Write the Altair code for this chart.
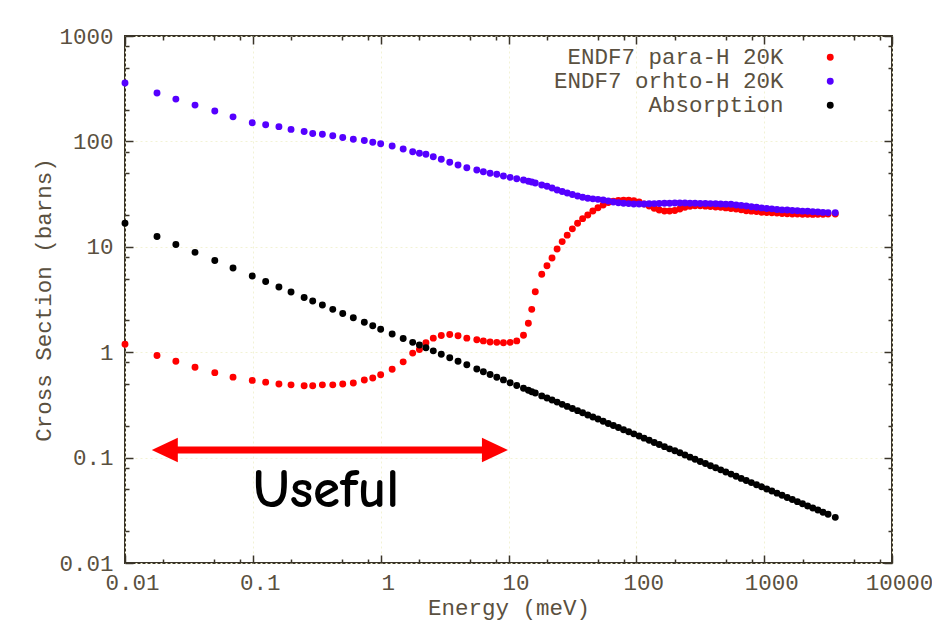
import altair as alt
import pandas as pd

# ---------------- data ----------------
energy = [0.01, 0.0178, 0.025, 0.0353, 0.0504, 0.070, 0.099, 0.126, 0.160, 0.199,
          0.252, 0.294, 0.350, 0.422, 0.505, 0.611, 0.745, 0.867, 1.00, 1.23,
          1.50, 1.78, 2.01, 2.26, 2.58, 2.98, 3.47, 4.03, 4.72, 5.65,
          6.36, 7.18, 8.10, 9.13, 10.3, 11.6, 13.1, 14.3, 15.2, 16.2,
          18.2, 20.0,
          21.9, 24.0, 26.3, 28.8, 31.6, 34.7, 38.0, 41.7, 45.7, 50.1,
          55.0, 60.3, 66.1, 72.4, 79.4, 87.1, 95.5, 105, 115, 126,
          138, 151, 166, 182, 200, 219, 240, 263, 288, 316,
          347, 380, 417, 457, 501, 550, 603, 661, 724, 794,
          871, 955, 1047, 1148, 1259, 1380, 1514, 1660, 1820, 1995,
          2188, 2399, 2630, 2884, 3162, 3600]

para_h = [1.19, 0.93, 0.82, 0.72, 0.64, 0.58, 0.54, 0.52, 0.50, 0.49,
          0.48, 0.48, 0.49, 0.49, 0.50, 0.51, 0.545, 0.57, 0.61, 0.69,
          0.81, 0.98, 1.06, 1.23, 1.36, 1.44, 1.47, 1.43, 1.36, 1.31,
          1.28, 1.25, 1.24, 1.23, 1.24, 1.28, 1.45, 1.88, 2.55, 3.75,
          5.48, 6.6,
          7.83, 9.53, 11.2, 12.9, 14.8, 16.7, 18.5, 20.0, 21.9, 23.5,
          24.9, 26.3, 27.1, 27.5, 27.7, 27.7, 27.3, 26.6, 25.5, 24.4,
          23.2, 22.3, 21.9, 21.9, 22.1, 22.8, 23.7, 24.2, 24.5, 24.5,
          24.3, 24.1, 23.9, 23.7, 23.4, 23.1, 22.8, 22.5, 22.0, 21.8,
          21.6, 21.3, 21.1, 21.0, 20.9, 20.7, 20.6, 20.5, 20.5, 20.4,
          20.4, 20.3, 20.4, 20.4, 20.5, 20.5]

ortho_h = [358, 288, 252, 221, 194, 171, 150, 144, 138, 130,
           124, 119, 117, 113, 109, 105, 102, 98, 95, 90.4,
           84.7, 79.8, 77.1, 75.5, 71.6, 67.6, 63.4, 59.7, 56.3, 53.5,
           51.6, 49.8, 48.7, 47.0, 45.6, 44.2, 43.0, 41.8, 41.2, 40.3,
           38.6, 37.5,
           36.1, 34.6, 33.5, 32.4, 31.3, 30.3, 29.5, 28.9, 28.5, 28.2,
           27.8, 27.2, 26.6, 26.2, 25.9, 25.7, 25.5, 25.5, 25.5, 25.6,
           25.7, 25.8, 25.9, 25.9, 26.0, 26.0, 26.0, 25.9, 25.9, 25.8,
           25.8, 25.7, 25.6, 25.5, 25.4, 25.3, 24.9, 24.7, 24.4, 24.0,
           23.7, 23.4, 23.1, 22.9, 22.6, 22.4, 22.3, 22.1, 22.0, 21.8,
           21.7, 21.5, 21.4, 21.2, 21.1, 21.0]

absorption = [16.7, 12.5, 10.5, 8.86, 7.42, 6.29, 5.28, 4.68, 4.15, 3.72,
              3.31, 3.06, 2.80, 2.55, 2.33, 2.12, 1.92, 1.78, 1.65, 1.49,
              1.35, 1.24, 1.17, 1.10, 1.03, 0.955, 0.885, 0.821, 0.759, 0.694,
              0.653, 0.615, 0.579, 0.546, 0.513, 0.483, 0.455, 0.435, 0.421, 0.410,
              0.385, 0.368,
              0.352, 0.336, 0.320, 0.306, 0.292, 0.279, 0.266, 0.254, 0.243, 0.232,
              0.221, 0.211, 0.202, 0.193, 0.184, 0.176, 0.168, 0.160, 0.153, 0.146,
              0.139, 0.133, 0.127, 0.121, 0.116, 0.111, 0.106, 0.101, 0.0964, 0.0920,
              0.0878, 0.0838, 0.0801, 0.0765, 0.0730, 0.0697, 0.0665, 0.0635, 0.0607, 0.0579,
              0.0553, 0.0528, 0.0504, 0.0482, 0.0460, 0.0439, 0.0419, 0.0400, 0.0382, 0.0365,
              0.0348, 0.0333, 0.0318, 0.0303, 0.0290, 0.0271]

series_names = ["ENDF7 para-H 20K", "ENDF7 orhto-H 20K", "Absorption"]
series_colors = ["#ff0000", "#5500ff", "#000000"]

x_major = [0.01, 0.1, 1, 10, 100, 1000, 10000]
y_major = [0.01, 0.1, 1, 10, 100, 1000]
minor_mult = [2, 5, 8]

# "Useful" annotation
arrow_tips = [0.0162, 9.9]
arrow_shaft = [0.025, 6.5]
arrow_level = [0.118]
useful_label = ["Useful"]
useful_pos = [0.374, 0.0493]

# ---------------- build tables ----------------
rows = []
for name, vals in zip(series_names, [para_h, ortho_h, absorption]):
    for e, v in zip(energy, vals):
        rows.append({"energy": e, "sigma": v, "series": name})
df = pd.DataFrame(rows)
df["order"] = range(len(df))

x_minor = [m * d for d in x_major[:-1] for m in minor_mult]
y_minor = [m * d for d in y_major[:-1] for m in minor_mult]

shaft_df = pd.DataFrame({"x": [arrow_shaft[0]], "x2": [arrow_shaft[1]], "y": arrow_level})
left_head_df = pd.DataFrame({"x": [arrow_tips[0]], "y": arrow_level})
right_head_df = pd.DataFrame({"x": [arrow_tips[1]], "y": arrow_level})
text_df = pd.DataFrame({"x": [useful_pos[0]], "y": [useful_pos[1]], "t": useful_label})

# ---------------- styling ----------------
FONT = "Liberation Mono"
FS = 22.5
LABEL_COLOR = "#5a5040"
FRAME = "#3a3428"

xscale = alt.Scale(type="log", domain=[0.01, 10000], nice=False)
yscale = alt.Scale(type="log", domain=[0.01, 1000], nice=False)


def tick_axis(orient, values, size):
    return alt.Axis(orient=orient, values=values, labels=False, domain=False, grid=False,
                    ticks=True, tickSize=size, offset=-size, tickColor=FRAME, tickWidth=1.5,
                    title=None)


axis_x_main = alt.Axis(orient="bottom", values=x_major, format="~g", ticks=False, domain=False,
                       grid=True, gridColor="#f2f2d4", gridDash=[2, 3], gridWidth=1,
                       labelFont=FONT, labelFontSize=FS, labelColor=LABEL_COLOR, labelPadding=8,
                       labelOffset=7, labelFlush=False, labelOverlap=False,
                       title="Energy (meV)", titleFont=FONT, titleFontSize=FS,
                       titleColor=LABEL_COLOR, titleFontWeight="normal", titlePadding=3)
axis_y_main = alt.Axis(orient="left", values=y_major, format="~g", ticks=False, domain=False,
                       grid=True, gridColor="#f2f2d4", gridDash=[2, 3], gridWidth=1,
                       labelFont=FONT, labelFontSize=FS, labelColor=LABEL_COLOR, labelPadding=12,
                       labelFlush=False, labelOverlap=False,
                       title="Cross Section (barns)", titleFont=FONT, titleFontSize=FS,
                       titleColor=LABEL_COLOR, titleFontWeight="normal", titlePadding=3)

points = alt.Chart(df).mark_point(filled=True, opacity=1, size=48, shape="circle",
                                  strokeWidth=0, clip=False).encode(
    x=alt.X("energy:Q", scale=xscale, axis=axis_x_main),
    y=alt.Y("sigma:Q", scale=yscale, axis=axis_y_main),
    color=alt.Color("series:N",
                    scale=alt.Scale(domain=series_names, range=series_colors),
                    legend=alt.Legend(title=None, orient="none", legendX=694, legendY=10,
                                      labelAlign="right", labelOffset={"expr": "-58"},
                                      labelFont=FONT, labelFontSize=FS, labelColor=LABEL_COLOR,
                                      labelLimit=0, symbolType="circle", symbolSize=48,
                                      symbolStrokeWidth=0, rowPadding=1, padding=0)),
    order=alt.Order("order:Q"),
)

shaft = alt.Chart(shaft_df).mark_rule(color="#ff0000", strokeWidth=7).encode(
    x=alt.X("x:Q", scale=xscale, axis=tick_axis("bottom", x_major, 8)),
    x2="x2:Q",
    y=alt.Y("y:Q", scale=yscale, axis=tick_axis("left", y_major, 8)),
)

left_head = alt.Chart(left_head_df).mark_point(
    shape="M0,0L2,-0.95L2,0.95Z", filled=True, color="#ff0000", opacity=1,
    size=676, strokeWidth=0).encode(
    x=alt.X("x:Q", scale=xscale, axis=tick_axis("bottom", x_minor, 4)),
    y=alt.Y("y:Q", scale=yscale, axis=tick_axis("left", y_minor, 4)),
)

right_head = alt.Chart(right_head_df).mark_point(
    shape="M0,0L-2,-0.95L-2,0.95Z", filled=True, color="#ff0000", opacity=1,
    size=676, strokeWidth=0).encode(
    x=alt.X("x:Q", scale=xscale, axis=tick_axis("top", x_major, 8)),
    y=alt.Y("y:Q", scale=yscale, axis=tick_axis("right", y_major, 8)),
)

useful = alt.Chart(text_df).mark_text(
    font="Comic Sans MS, Comic Neue, DejaVu Sans", fontSize=55, fontWeight="bold",
    color="#000000", align="center", baseline="middle").encode(
    x=alt.X("x:Q", scale=xscale, axis=tick_axis("top", x_minor, 4)),
    y=alt.Y("y:Q", scale=yscale, axis=tick_axis("right", y_minor, 4)),
    text="t:N",
)

chart = alt.layer(points, shaft, left_head, right_head, useful).resolve_axis(
    x="independent", y="independent"
).properties(
    width=767, height=527,
    autosize=alt.AutoSizeParams(type="none"),
    padding={"left": 117, "top": 28, "right": 40, "bottom": 60},
).configure_view(stroke=FRAME, strokeWidth=2)

chart.save("out.html", embed_options={"renderer": "svg", "actions": False})
